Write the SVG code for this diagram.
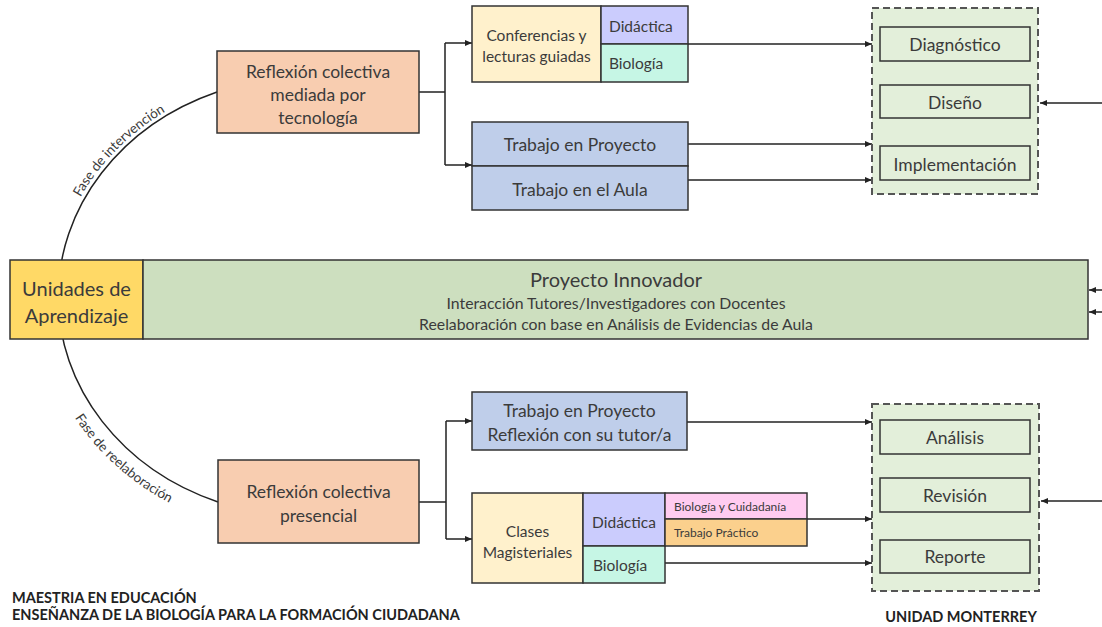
<svg xmlns="http://www.w3.org/2000/svg" width="1102" height="627" viewBox="0 0 1102 627">
<defs>
<marker id="arr" markerWidth="8" markerHeight="8" refX="7" refY="4" orient="auto" markerUnits="userSpaceOnUse">
<path d="M0,1 L7,4 L0,7 Z" fill="#222"/>
</marker>
<path id="pTop" d="M308,521 A254,224 0 0 1 308,73"/>
<path id="pBot" d="M308,57 A270,240 0 0 0 308,537"/>
</defs>
<style>
text{font-family:Lato,"Open Sans","Liberation Sans",sans-serif;fill:#3b3b3b;}
.t{text-anchor:middle;}
.box{stroke:#333;stroke-width:1.5;}
.ln{stroke:#222;stroke-width:1.5;fill:none;}
.la{stroke:#222;stroke-width:1.5;fill:none;marker-end:url(#arr);}
.salmon{fill:#F8CDB0;}
.cream{fill:#FFF1CC;}
.lav{fill:#CBCCFD;}
.mint{fill:#C6F6E5;}
.blue{fill:#BFCEEA;}
.gr{fill:#E3EFDA;}
.dash{fill:#E3EFDA;stroke:#555;stroke-width:2;stroke-dasharray:7,4;}
.f17{font-size:17.5px;}
.f15{font-size:15.5px;}
.f12{font-size:12px;}
.fl{font-size:13.5px;}
.ft{font-size:14.5px;font-weight:bold;fill:#222;}
</style>

<g id="connectors">
<path class="ln" d="M217,92 A250,220 0 0 0 218,502"/>
<text class="fl"><textPath href="#pTop" startOffset="72%" text-anchor="middle">Fase de intervención</textPath></text>
<text class="fl"><textPath href="#pBot" startOffset="74%" text-anchor="middle">Fase de reelaboración</textPath></text>
<path class="ln" d="M419,92 H445 M445,43 V165"/>
<path class="la" d="M445,43 H472"/>
<path class="la" d="M445,165 H472"/>
<path class="la" d="M688,44 H872"/>
<path class="la" d="M688,144 H872"/>
<path class="la" d="M688,180 H872"/>
<path class="la" d="M1102,103 H1040"/>
<path class="la" d="M1102,290 H1089"/>
<path class="la" d="M1102,312 H1089"/>
<path class="ln" d="M419,502 H446 M446,421 V539"/>
<path class="la" d="M446,421 H472"/>
<path class="la" d="M446,539 H472"/>
<path class="la" d="M687,422 H872"/>
<path class="la" d="M807,519 H872"/>
<path class="la" d="M665,563 H872"/>
<path class="la" d="M1102,501 H1041"/>
</g>

<g id="reflexion-tecnologia">
<rect class="box salmon" x="217" y="51" width="202" height="82"/>
<text class="t f17" x="318" y="78">Reflexión colectiva</text>
<text class="t f17" x="318" y="101">mediada por</text>
<text class="t f17" x="318" y="124">tecnología</text>
</g>

<g id="conferencias">
<rect class="box cream" x="472" y="6" width="129" height="76"/>
<text class="t f15" x="536.5" y="41">Conferencias y</text>
<text class="t f15" x="536.5" y="62">lecturas guiadas</text>
<rect class="box lav" x="601" y="6" width="87" height="38"/>
<text class="f15" x="609" y="32">Didáctica</text>
<rect class="box mint" x="601" y="44" width="87" height="38"/>
<text class="f15" x="609" y="69">Biología</text>
</g>

<g id="trabajo-top">
<rect class="box blue" x="472" y="122" width="216" height="44"/>
<text class="t f17" x="580" y="151">Trabajo en Proyecto</text>
<rect class="box blue" x="472" y="166" width="216" height="44"/>
<text class="t f17" x="580" y="196">Trabajo en el Aula</text>
</g>

<g id="fases-top">
<rect class="dash" x="872" y="8" width="166" height="186"/>
<rect class="box gr" x="880" y="27" width="150" height="34"/>
<text class="t f17" x="955" y="51">Diagnóstico</text>
<rect class="box gr" x="880" y="85" width="150" height="33"/>
<text class="t f17" x="955" y="109">Diseño</text>
<rect class="box gr" x="880" y="146" width="150" height="34"/>
<text class="t f17" x="955" y="171">Implementación</text>
</g>

<g id="unidades">
<rect class="box" fill="#FFD966" x="10" y="260" width="133" height="79"/>
<text class="t" font-size="20" x="76.5" y="296">Unidades de</text>
<text class="t" font-size="20" x="76.5" y="323">Aprendizaje</text>
</g>

<g id="proyecto-innovador">
<rect class="box" fill="#CDDFBF" x="143" y="260" width="945" height="79"/>
<text class="t" font-size="20" x="616" y="287">Proyecto Innovador</text>
<text class="t" font-size="15.8" x="616" y="309">Interacción Tutores/Investigadores con Docentes</text>
<text class="t" font-size="15.8" x="616" y="330">Reelaboración con base en Análisis de Evidencias de Aula</text>
</g>

<g id="reflexion-presencial">
<rect class="box salmon" x="218" y="460" width="201" height="83"/>
<text class="t f17" x="318.5" y="498">Reflexión colectiva</text>
<text class="t f17" x="318.5" y="522">presencial</text>
</g>

<g id="trabajo-tutor">
<rect class="box blue" x="472" y="392" width="215" height="58"/>
<text class="t f17" x="579.5" y="417">Trabajo en Proyecto</text>
<text class="t f17" x="579.5" y="441">Reflexión con su tutor/a</text>
</g>

<g id="clases">
<rect class="box cream" x="472" y="493" width="111" height="90"/>
<text class="t f15" x="527.5" y="537">Clases</text>
<text class="t f15" x="527.5" y="558">Magisteriales</text>
<rect class="box lav" x="583" y="493" width="82" height="53"/>
<text class="t f15" x="624" y="528">Didáctica</text>
<rect class="box mint" x="583" y="546" width="82" height="37"/>
<text class="f15" x="593" y="571">Biología</text>
<rect class="box" fill="#FFCCF0" x="665" y="493" width="142" height="26"/>
<text class="f12" x="674" y="511">Biología y Cuidadanía</text>
<rect class="box" fill="#FBD08D" x="665" y="519" width="142" height="27"/>
<text class="f12" x="674" y="537">Trabajo Práctico</text>
</g>

<g id="fases-bottom">
<rect class="dash" x="872" y="404" width="167" height="187"/>
<rect class="box gr" x="880" y="420" width="150" height="34"/>
<text class="t f17" x="955" y="444">Análisis</text>
<rect class="box gr" x="880" y="478" width="150" height="34"/>
<text class="t f17" x="955" y="502">Revisión</text>
<rect class="box gr" x="880" y="540" width="150" height="33"/>
<text class="t f17" x="955" y="563">Reporte</text>
</g>

<g id="footer">
<text class="ft" x="12" y="603">MAESTRIA EN EDUCACIÓN</text>
<text class="ft" x="12" y="620">ENSEÑANZA DE LA BIOLOGÍA PARA LA FORMACIÓN CIUDADANA</text>
<text class="ft t" x="961" y="622">UNIDAD MONTERREY</text>
</g>
</svg>
